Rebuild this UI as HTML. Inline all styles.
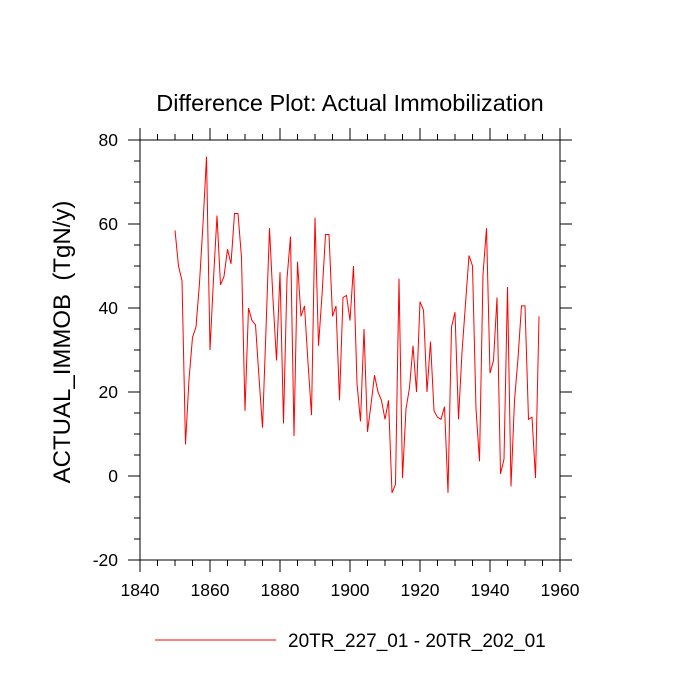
<!DOCTYPE html>
<html><head><meta charset="utf-8"><style>
body{margin:0;background:#fff;}
svg{display:block;font-family:"Liberation Sans",sans-serif;}
</style></head><body>
<svg id="chart" width="700" height="700" viewBox="0 0 700 700">
<text x="350" y="111" text-anchor="middle" font-size="23.5">Difference Plot: Actual Immobilization</text>
<text transform="translate(70,342) rotate(-90)" text-anchor="middle" font-size="24" style="white-space:pre">ACTUAL_IMMOB  (TgN/y)</text>
<g id="axes"></g>
<g id="series"></g>
<g>
<line x1="155" y1="640" x2="276" y2="640" stroke="red" stroke-width="1"/>
<text x="288" y="647" font-size="19">20TR_227_01 - 20TR_202_01</text>
</g>
</svg>
<script>
const startYear = 1850;
const values = [58.5,50,46.5,7.5,23,33,35.5,46,60,76,30,47,62,45.5,47.5,54,50.5,62.5,62.5,52,15.5,40,37,36,23.5,11.5,35,59,42,27.5,48.5,12.5,47,57,9.5,51,38,40.5,27,14.5,61.5,31,43,57.5,57.5,38,40.5,18,42.5,43,37,50,22,13,35,10.5,17,24,20,18,13.5,18,-4,-2,47,-0.5,16,21,31,20,41.5,39.5,20,32,15.5,14,13.5,16.5,-4,35.5,39,13.5,29.5,41,52.5,50,16,3.5,48,59,24.5,27.5,42.5,0.5,4,45,-2.5,18,28,40.5,40.5,13.5,14,-0.5,38];
const xTicks = [1840,1860,1880,1900,1920,1940,1960];
const yTicks = [-20,0,20,40,60,80];
const NS="http://www.w3.org/2000/svg";
const L=140,R=560,T=140,B=560;
const xs=v=>L+(v-1840)/(1960-1840)*(R-L);
const ys=v=>B-(v+20)/100*(B-T);
function mk(tag,attrs,parent){const e=document.createElementNS(NS,tag);for(const k in attrs)e.setAttribute(k,attrs[k]);parent.appendChild(e);return e;}
const ax=document.getElementById('axes');
const frame=mk('rect',{x:L,y:T,width:R-L,height:B-T,fill:'none',stroke:'#000','stroke-width':1},ax);


for(let v=1840;v<=1960;v+=5){const major=v%20===0;const len=major?12:6;const x=xs(v);
 mk('line',{x1:x,y1:B,x2:x,y2:B+len,stroke:'#000'},ax);mk('line',{x1:x,y1:T,x2:x,y2:T-len,stroke:'#000'},ax);}
for(let v=-20;v<=80;v+=5){const major=v%20===0;const len=major?12:6;const y=ys(v);
 mk('line',{x1:L,y1:y,x2:L-len,y2:y,stroke:'#000'},ax);mk('line',{x1:R,y1:y,x2:R+len,y2:y,stroke:'#000'},ax);}
xTicks.forEach(v=>{const t=mk('text',{x:xs(v),y:B+36,'text-anchor':'middle','font-size':17.5},ax);t.textContent=v;
 
 });
yTicks.forEach(v=>{const t=mk('text',{x:L-22,y:ys(v)+6,'text-anchor':'end','font-size':17.5},ax);t.textContent=v;
 
 });
const pts=values.map((v,i)=>xs(startYear+i).toFixed(2)+','+ys(v).toFixed(2)).join(' ');
const line=mk('polyline',{points:pts,fill:'none',stroke:'red','stroke-width':1},document.getElementById('series'));


</script>
</body></html>
